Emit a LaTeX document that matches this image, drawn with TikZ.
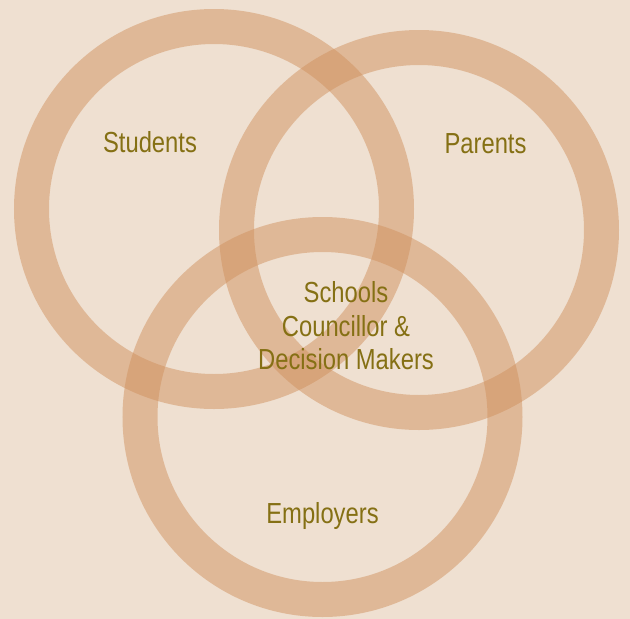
\documentclass[tikz,border=0pt]{standalone}
\usepackage{fontspec}
\setmainfont[FakeStretch=0.82]{Liberation Sans}
\definecolor{bgbeige}{RGB}{239,224,209}
\definecolor{ringtan}{RGB}{209,146,95}
\definecolor{labelolive}{RGB}{133,112,20}
\begin{document}
\begin{tikzpicture}[x=1pt, y=-1pt, ring/.style={draw=ringtan, draw opacity=0.5, line width=35pt}, label node/.style={text=labelolive, inner sep=0pt, align=center}]
            \tikzstyle{every node}=[font=\fontsize{29}{33.5}\selectfont]
            
              \fill[bgbeige] (0,0) rectangle (630,619);
              \useasboundingbox (0,0) rectangle (630,619);
              
              % the three rings
              \draw[ring] (214,209) circle (182.5pt);
              \draw[ring] (419,230) circle (182.5pt);
              \draw[ring] (322.5,417) circle (182.5pt);
              
              \node[label node, anchor=base] (1) at (150,152) {Students};
              \node[label node, anchor=base] (2) at (485.5,153) {Parents};
              \node[label node, anchor=base] (3) at (322.5,523) {Employers};
              \node[label node] (4) at (346,326) {Schools\\Councillor \&\\Decision Makers};
                	
            \end{tikzpicture}
\end{document}
